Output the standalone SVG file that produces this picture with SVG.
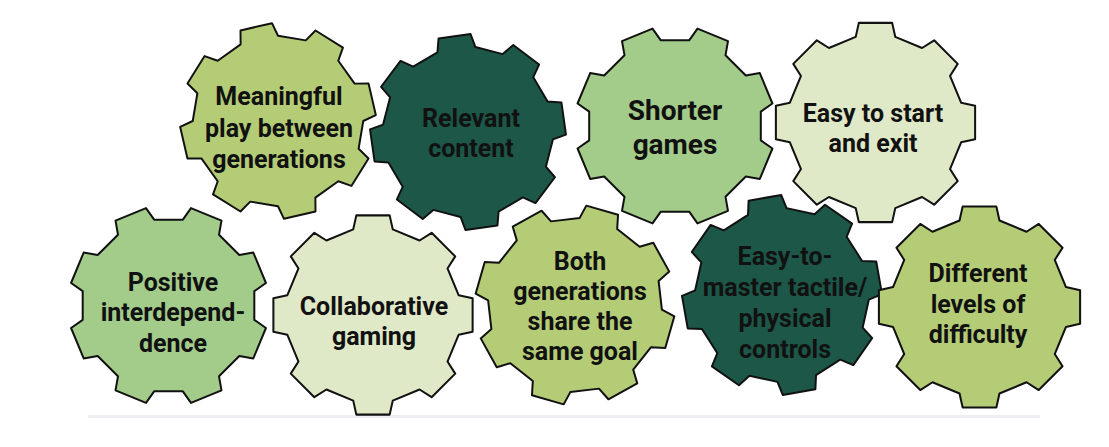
<svg xmlns="http://www.w3.org/2000/svg" xmlns:xlink="http://www.w3.org/1999/xlink" width="1109" height="447" viewBox="0 0 1109 447">
  <style>
    .gear { stroke: #111; stroke-width: 2; stroke-linejoin: round; }
    .lbl { font-family: Roboto, "Liberation Sans", sans-serif; font-weight: bold; font-size: 25px; fill: #111; text-anchor: middle; }
    .big { font-size: 28px; }
    .g-olive { fill: #b4cc76; }
    .g-mint { fill: #a3cc8a; }
    .g-pale { fill: #e0e9c7; }
    .g-dark { fill: #1c5748; }
  </style>
  <defs>
    <path id="gear" d="M-19.58,-84.77 L-16.5,-98.63 L16.5,-98.63 L19.58,-84.77 L46.1,-73.78 L58.07,-81.41 L81.41,-58.07 L73.78,-46.1 L84.77,-19.58 L98.63,-16.5 L98.63,16.5 L84.77,19.58 L73.78,46.1 L81.41,58.07 L58.07,81.41 L46.1,73.78 L19.58,84.77 L16.5,98.63 L-16.5,98.63 L-19.58,84.77 L-46.1,73.78 L-58.07,81.41 L-81.41,58.07 L-73.78,46.1 L-84.77,19.58 L-98.63,16.5 L-98.63,-16.5 L-84.77,-19.58 L-73.78,-46.1 L-81.41,-58.07 L-58.07,-81.41 L-46.1,-73.78 Z"/>
  </defs>
  <rect width="1109" height="447" fill="#ffffff"/>
  <rect x="88" y="415" width="952" height="3" fill="#eceef1"/>

  <g id="node-meaningful">
    <use xlink:href="#gear" href="#gear" class="gear g-olive" transform="translate(278,121) rotate(-13) scale(0.98)"/>
    <text class="lbl" x="279" y="105">Meaningful</text>
    <text class="lbl" x="279" y="137">play between</text>
    <text class="lbl" x="279" y="168">generations</text>
  </g>
  <g id="node-relevant">
    <use xlink:href="#gear" href="#gear" class="gear g-dark" transform="translate(468,132) rotate(-8) scale(0.98)"/>
    <text class="lbl" x="471" y="127">Relevant</text>
    <text class="lbl" x="471" y="157">content</text>
  </g>
  <g id="node-shorter">
    <use xlink:href="#gear" href="#gear" class="gear g-mint" transform="translate(675,126) rotate(22.5) scale(1)"/>
    <text class="lbl big" x="675" y="120">Shorter</text>
    <text class="lbl big" x="675" y="154">games</text>
  </g>
  <g id="node-easystart">
    <use xlink:href="#gear" href="#gear" class="gear g-pale" transform="translate(875.5,122.5) rotate(0) scale(1.01)"/>
    <text class="lbl" x="873" y="122">Easy to start</text>
    <text class="lbl" x="873" y="152">and exit</text>
  </g>
  <g id="node-positive">
    <use xlink:href="#gear" href="#gear" class="gear g-mint" transform="translate(168.5,305.5) rotate(22.5) scale(1)"/>
    <text class="lbl" x="173" y="291">Positive</text>
    <text class="lbl" x="173" y="321">interdepend-</text>
    <text class="lbl" x="173" y="352">dence</text>
  </g>
  <g id="node-collaborative">
    <use xlink:href="#gear" href="#gear" class="gear g-pale" transform="translate(373,315) rotate(0) scale(1.01)"/>
    <text class="lbl" x="374" y="315">Collaborative</text>
    <text class="lbl" x="374" y="345">gaming</text>
  </g>
  <g id="node-both">
    <use xlink:href="#gear" href="#gear" class="gear g-olive" transform="translate(575,305) rotate(16) scale(1)"/>
    <text class="lbl" x="580" y="270">Both</text>
    <text class="lbl" x="580" y="300">generations</text>
    <text class="lbl" x="580" y="330">share the</text>
    <text class="lbl" x="580" y="360">same goal</text>
  </g>
  <g id="node-easymaster">
    <use xlink:href="#gear" href="#gear" class="gear g-dark" transform="translate(782,295) rotate(-10) scale(1)"/>
    <text class="lbl" x="785" y="265">Easy-to-</text>
    <text class="lbl" x="785" y="296">master tactile/</text>
    <text class="lbl" x="785" y="327">physical</text>
    <text class="lbl" x="785" y="358">controls</text>
  </g>
  <g id="node-different">
    <use xlink:href="#gear" href="#gear" class="gear g-olive" transform="translate(979.5,307) rotate(0) scale(1.02)"/>
    <text class="lbl" x="978" y="282">Different</text>
    <text class="lbl" x="978" y="313">levels of</text>
    <text class="lbl" x="978" y="343">difficulty</text>
  </g>
  <g id="connectors"></g>
</svg>
